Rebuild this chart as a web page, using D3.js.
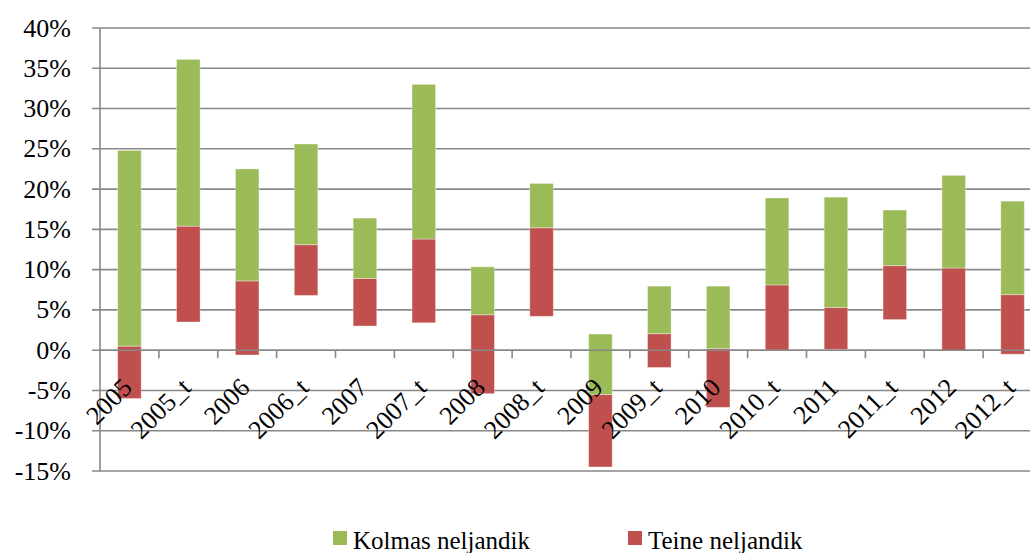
<!DOCTYPE html>
<html>
<head>
<meta charset="utf-8">
<script src="https://cdnjs.cloudflare.com/ajax/libs/d3/7.8.5/d3.min.js"></script>
</head>
<body style="margin:0">
<svg width="1030" height="553"></svg>
<script>
const width = 1030;
const height = 553;
const serif = "Times New Roman";

// categories along the x axis
const categories = ["2005", "2005_t", "2006", "2006_t", "2007", "2007_t", "2008", "2008_t",
    "2009", "2009_t", "2010", "2010_t", "2011", "2011_t", "2012", "2012_t"];

// Teine neljandik: bottom and top of the red bar (%)
const teineLow  = [-6.0, 3.5, -0.6, 6.8, 3.0, 3.4, -5.4, 4.2, -14.5, -2.15, -7.1, 0.0, 0.1, 3.8, -0.1, -0.5];
const teineHigh = [0.5, 15.4, 8.6, 13.1, 8.9, 13.8, 4.4, 15.2, -5.5, 2.05, 0.2, 8.1, 5.3, 10.5, 10.2, 6.9];
// Kolmas neljandik: top of the green bar, which starts at the top of the red one (%)
const kolmasHigh = [24.8, 36.1, 22.5, 25.6, 16.4, 33.0, 10.35, 20.7, 2.0, 7.95, 7.95, 18.9, 19.0, 17.4, 21.7, 18.5];

const yTicks = [-15, -10, -5, 0, 5, 10, 15, 20, 25, 30, 35, 40];

const legendItems = [
    { name: "Kolmas neljandik", color: "#9BBB59" },
    { name: "Teine neljandik", color: "#C0504D" }
];

const margin = { left: 100, top: 28, bottom: 471 };

// the plot runs past the right edge of the picture, as in the original
const x = d3.scaleBand()
    .domain(categories)
    .range([margin.left, 1042])
    .paddingInner(0)
    .paddingOuter(0);

const y = d3.scaleLinear()
    .domain([-15, 40])
    .range([margin.bottom, margin.top]);

const svg = d3.select("svg");
const gridColor = "#888888";

// horizontal gridlines
svg.append("g")
    .selectAll("line")
    .data(yTicks)
    .enter().append("line")
    .attr("x1", margin.left - 8)
    .attr("x2", width)
    .attr("y1", d => y(d))
    .attr("y2", d => y(d))
    .attr("stroke", gridColor)
    .attr("stroke-width", 1.6);

// y labels
svg.append("g")
    .selectAll("text")
    .data(yTicks)
    .enter().append("text")
    .attr("x", 71)
    .attr("y", d => y(d))
    .attr("dy", "0.33em")
    .attr("text-anchor", "end")
    .attr("font-family", serif)
    .attr("font-size", 26)
    .text(d => d + "%");

// bars
const barW = x.bandwidth() * 0.4;
const bars = svg.append("g");

bars.selectAll("rect.teine")
    .data(categories)
    .enter().append("rect")
    .attr("class", "teine")
    .attr("x", d => x(d) + (x.bandwidth() - barW) / 2)
    .attr("width", barW)
    .attr("y", (d, i) => y(teineHigh[i]))
    .attr("height", (d, i) => y(teineLow[i]) - y(teineHigh[i]))
    .attr("fill", "#C0504D")
    .attr("stroke", "rgba(255,255,255,0.35)")
    .attr("stroke-width", 1);

bars.selectAll("rect.kolmas")
    .data(categories)
    .enter().append("rect")
    .attr("class", "kolmas")
    .attr("x", d => x(d) + (x.bandwidth() - barW) / 2)
    .attr("width", barW)
    .attr("y", (d, i) => y(kolmasHigh[i]))
    .attr("height", (d, i) => y(teineHigh[i]) - y(kolmasHigh[i]))
    .attr("fill", "#9BBB59")
    .attr("stroke", "rgba(255,255,255,0.35)")
    .attr("stroke-width", 1);

// zero line and y axis
svg.append("line")
    .attr("x1", margin.left).attr("x2", width)
    .attr("y1", y(0)).attr("y2", y(0))
    .attr("stroke", gridColor).attr("stroke-width", 1.6);

svg.append("line")
    .attr("x1", margin.left).attr("x2", margin.left)
    .attr("y1", margin.top).attr("y2", margin.bottom)
    .attr("stroke", gridColor).attr("stroke-width", 1.6);

// category tick marks below the zero line
svg.append("g")
    .selectAll("line")
    .data(categories.slice(1))
    .enter().append("line")
    .attr("x1", d => x(d))
    .attr("x2", d => x(d))
    .attr("y1", y(0))
    .attr("y2", y(0) + 8)
    .attr("stroke", gridColor)
    .attr("stroke-width", 1.6);

// rotated x labels
svg.append("g")
    .selectAll("text")
    .data(categories)
    .enter().append("text")
    .attr("transform", d => `translate(${x(d) + x.bandwidth() / 2 + 4},${y(0) + 39}) rotate(-45)`)
    .attr("text-anchor", "end")
    .attr("font-family", serif)
    .attr("font-size", 26)
    .text(d => d);

// legend
const legendX = [333, 628];
const legend = svg.append("g")
    .selectAll("g")
    .data(legendItems)
    .enter().append("g")
    .attr("transform", (d, i) => `translate(${legendX[i]},531)`);

legend.append("rect")
    .attr("width", 14)
    .attr("height", 14)
    .attr("fill", d => d.color);

legend.append("text")
    .attr("x", 20)
    .attr("y", 18)
    .attr("font-family", serif)
    .attr("font-size", 25)
    .text(d => d.name);
</script>
</body>
</html>
